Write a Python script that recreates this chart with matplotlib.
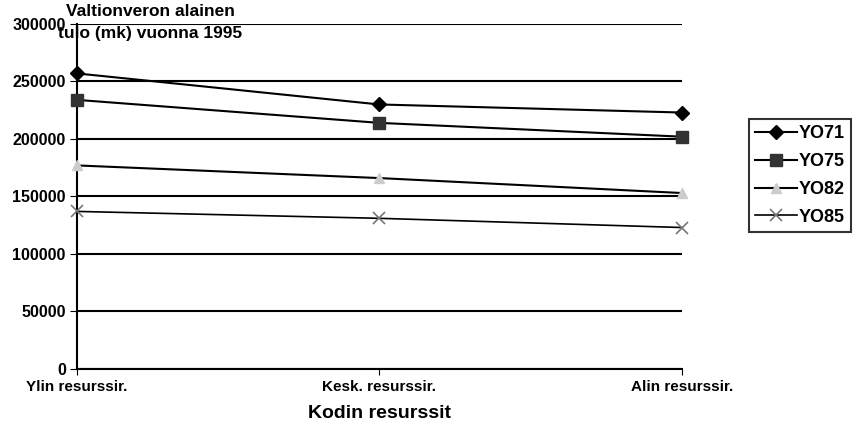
import matplotlib
matplotlib.use("Agg")
import matplotlib.pyplot as plt

plt.rcParams['font.family'] = ['Liberation Sans', 'DejaVu Sans']

categories = ['Ylin resurssir.', 'Kesk. resurssir.', 'Alin resurssir.']
yo71 = [257000, 230000, 223000]
yo75 = [234000, 214000, 202000]
yo82 = [177000, 166000, 153000]
yo85 = [137000, 131000, 123000]
yticks = [0, 50000, 100000, 150000, 200000, 250000, 300000]

fig = plt.figure(figsize=(8.59, 4.44), dpi=100)
ax = fig.add_axes([0.0896, 0.169, 0.704, 0.777])

x = range(len(categories))
ax.plot(x, yo71, color='black', lw=1.5, marker='D', ms=7, mfc='black', mec='black',
        label='YO71', clip_on=False, zorder=5)
ax.plot(x, yo75, color='black', lw=1.5, marker='s', ms=8, mfc='#333333', mec='#333333',
        label='YO75', clip_on=False, zorder=5)
ax.plot(x, yo82, color='black', lw=1.5, marker='^', ms=7, mfc='#cccccc', mec='#cccccc',
        label='YO82', clip_on=False, zorder=5)
ax.plot(x, yo85, color='black', lw=1.2, marker='x', ms=8, mew=1.2, mec='#777777',
        label='YO85', clip_on=False, zorder=5)

ax.set_xlim(0, 2)
ax.set_ylim(0, 300000)
ax.set_yticks(yticks)
ax.set_yticklabels([str(v) for v in yticks], fontweight='bold', fontsize=11.5)
ax.set_xticks(list(x))
ax.set_xticklabels(categories, fontweight='bold', fontsize=11)
ax.tick_params(axis='x', pad=4, length=4)
ax.tick_params(axis='y', length=5, pad=3)
ax.yaxis.grid(True, color='black', lw=1.5)
ax.set_axisbelow(True)
for s in ['top', 'right']:
    ax.spines[s].set_visible(False)
ax.spines['left'].set_linewidth(1.5)
ax.spines['bottom'].set_linewidth(1.5)

ax.set_xlabel('Kodin resurssit', fontweight='bold', fontsize=14, labelpad=8)
fig.text(150 / 859, 0.99, 'Valtionveron alainen\ntulo (mk) vuonna 1995', fontweight='bold',
         fontsize=12.5, va='top', ha='center', multialignment='center', linespacing=1.55)

leg = fig.legend(loc='upper left', bbox_to_anchor=(0.872, 0.732), fontsize=13,
                 frameon=True, fancybox=False, edgecolor='black', handlelength=2.3,
                 borderpad=0.35, labelspacing=0.6, handletextpad=0.1, borderaxespad=0)
for t in leg.get_texts():
    t.set_fontweight('bold')
leg.get_frame().set_linewidth(1.5)

fig.savefig('out.png', dpi=100)
